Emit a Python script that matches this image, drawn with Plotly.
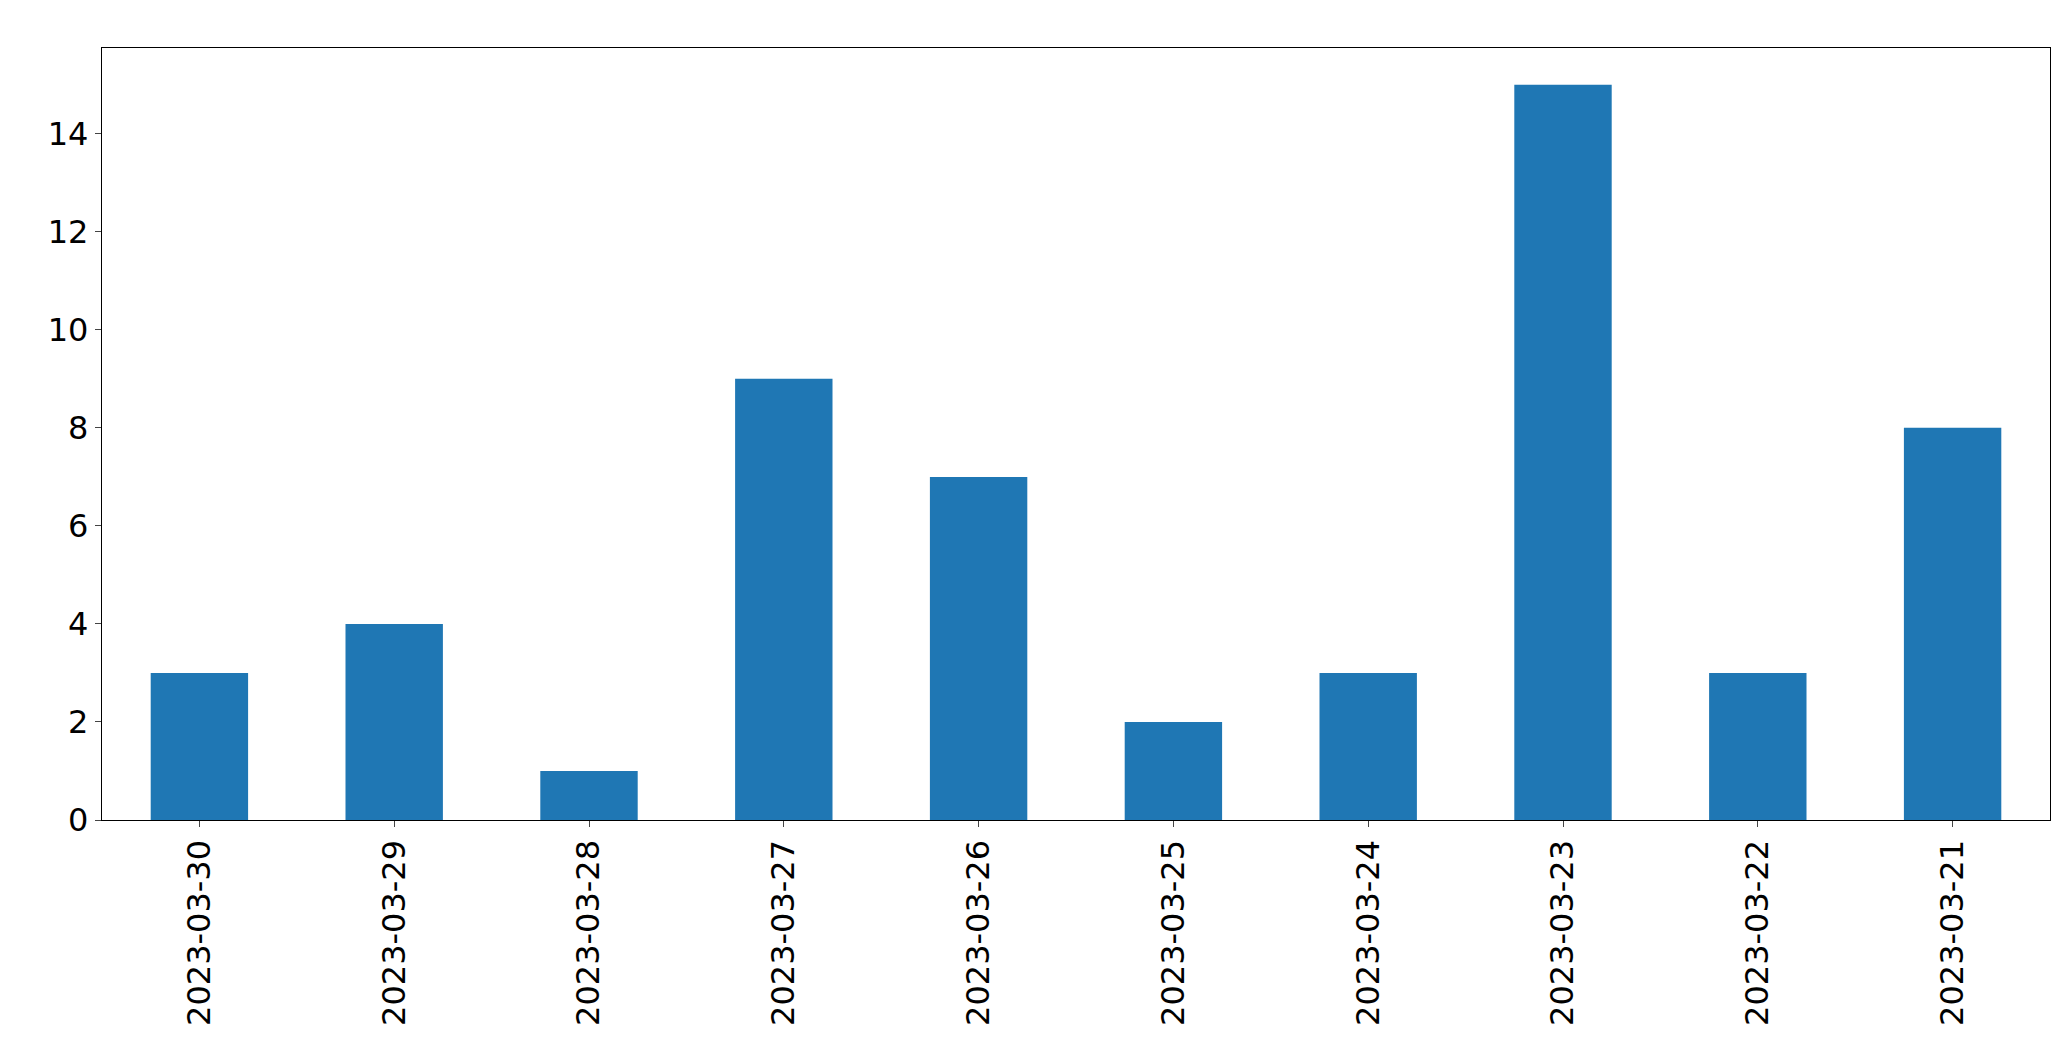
import plotly.graph_objects as go

dates = ["2023-03-30","2023-03-29","2023-03-28","2023-03-27","2023-03-26",
         "2023-03-25","2023-03-24","2023-03-23","2023-03-22","2023-03-21"]
counts = [3, 4, 1, 9, 7, 2, 3, 15, 3, 8]

fig = go.Figure(go.Bar(x=list(range(len(dates))), y=counts, width=0.5,
                       marker=dict(color="#1f77b4", line=dict(width=0))))
fig.update_layout(
    width=2071, height=1061, plot_bgcolor="white", paper_bgcolor="white",
    margin=dict(l=94, r=29, t=40, b=249), showlegend=False,
    font=dict(family="DejaVu Sans", size=32, color="black"),
)
fig.update_xaxes(range=[-0.5, 9.5], tickmode="array", tickvals=list(range(len(dates))),
                 ticktext=dates, tickangle=-90, ticks="outside", ticklen=6, tickwidth=1.3,
                 showgrid=False, zeroline=False, showline=True, linecolor="black",
                 linewidth=1.3, mirror=True)
fig.update_yaxes(range=[0, 15.75], tickvals=[0, 2, 4, 6, 8, 10, 12, 14], ticks="outside",
                 ticklen=6, tickwidth=1.3, showgrid=False, zeroline=False, showline=True,
                 linecolor="black", linewidth=1.3, mirror=True)
fig.write_html("out.html")
